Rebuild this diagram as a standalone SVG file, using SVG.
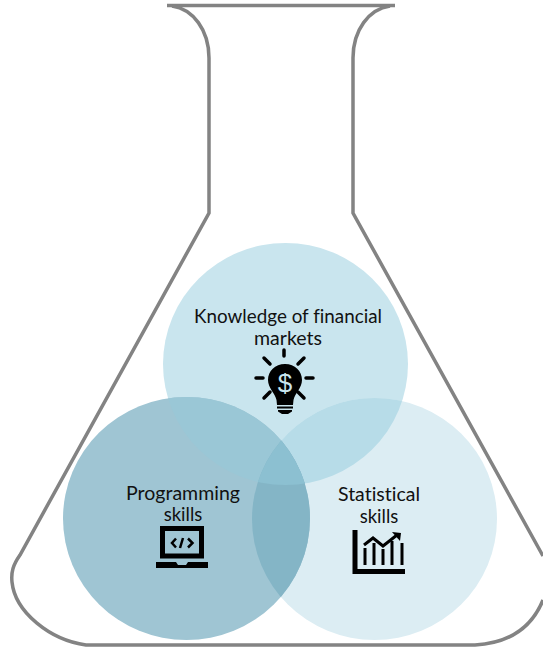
<svg xmlns="http://www.w3.org/2000/svg" width="543" height="649" viewBox="0 0 543 649">
<style>
.l{font-family:"Lato","Liberation Sans",sans-serif;font-size:18.500px;fill:#111;text-anchor:middle;font-variant-ligatures:none}
.f{fill:none;stroke:#838383;stroke-width:3.5}
.k{stroke:#000;stroke-linecap:round;fill:none}
</style>
<defs>
<ellipse id="eT" cx="285.500" cy="364" rx="122.500" ry="121"/>
<ellipse id="eL" cx="186.500" cy="518.500" rx="123.500" ry="121.500"/>
<ellipse id="eR" cx="374.500" cy="519" rx="122.500" ry="121"/>
<clipPath id="cT"><use href="#eT"/></clipPath>
<clipPath id="cL"><use href="#eL"/></clipPath>
<clipPath id="cR"><use href="#eR"/></clipPath>
</defs>
<g id="flask">
<path class="f" d="M167 5.500H395"/>
<path class="f" d="M172 6C193 9 209 30 209 58V213L20 555C13 565 11 572 12 582C15 612 50 640 86 645H475C510 643 532 627 543 600"/>
<path class="f" d="M390 6C369 9 353 30 353 58V213L543 556"/>
</g>
<g id="circles">
<use id="circle-top" href="#eT" fill="#c9e5ee"/>
<use id="circle-right" href="#eR" fill="#dcedf3"/>
<g clip-path="url(#cT)"><use href="#eR" fill="#b7dce8"/></g>
<use id="circle-left" href="#eL" fill="#9fc5d3"/>
<g clip-path="url(#cT)"><use href="#eL" fill="#9ac7d6"/></g>
<g clip-path="url(#cR)"><use href="#eL" fill="#84b5c6"/>
<g clip-path="url(#cT)"><use href="#eL" fill="#8cc0d1"/></g></g>
</g>
<g id="node-markets">
<text class="l" x="288" y="323" textLength="188" lengthAdjust="spacingAndGlyphs">Knowledge of financial</text>
<text class="l" x="288" y="345" textLength="68" lengthAdjust="spacingAndGlyphs">markets</text>
<g id="icon-bulb">
<path class="k" stroke-width="3.500" d="M284 350V356M264 358L270 364M304 358L298 364M256 378H263M306 378H313M264 398L270 392M304 398L298 392"/>
<path fill="#000" d="M285 364C275 364 268 371 268 380C268 388 275 393 276.500 400L277 405H293L293.500 400C295 393 302 388 302 380C302 371 295 364 285 364Z"/>
<path fill="#000" d="M277 406.500H293V408.500H277ZM278 410H292V411.500L288 414H282L278 411.500Z"/>
<text x="285" y="392" font-family="Liberation Sans,sans-serif" font-size="26" fill="#c9e5ee" text-anchor="middle">$</text>
</g>
</g>
<g id="node-programming">
<text class="l" x="183" y="500" textLength="114" lengthAdjust="spacingAndGlyphs">Programming</text>
<text class="l" x="183" y="521">skills</text>
<g id="icon-laptop">
<rect x="162.500" y="528.500" width="39" height="27.500" fill="none" stroke="#000" stroke-width="5"/>
<path fill="#000" d="M156 562H176L178 565H186L188 562H208V568H156Z"/>
<path fill="none" stroke="#000" stroke-width="2.500" d="M176 538.500L172 543L176 547.500M188 538.500L192.500 543L188 547.500M183 538L180 548"/>
</g>
</g>
<g id="node-statistical">
<text class="l" x="379" y="501" textLength="82" lengthAdjust="spacingAndGlyphs">Statistical</text>
<text class="l" x="379" y="523">skills</text>
<g id="icon-chart">
<path fill="none" stroke="#000" stroke-width="5" d="M355 530V571.500H405"/>
<path fill="none" stroke="#000" stroke-width="3" d="M364 545L373 538L383 546L397 535"/>
<path fill="#000" d="M392 532L401 533L400 541Z"/>
<path fill="none" stroke="#000" stroke-width="3" d="M365 548V565M374 543V565M383 549V565M392 541V565M402 543V565"/>
</g>
</g>
</svg>
